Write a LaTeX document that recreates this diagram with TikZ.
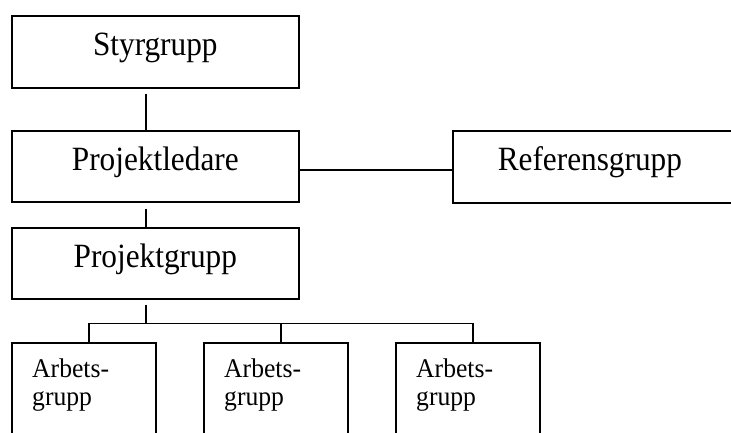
\documentclass[tikz,border=0pt]{standalone}
\usepackage{fontspec}
\setmainfont{Liberation Serif}
\newfontfamily\bigfont[FakeStretch=0.92]{Liberation Serif}
\newfontfamily\smallfont[FakeStretch=0.95]{Liberation Serif}
\begin{document}
\begin{tikzpicture}[x=1pt,y=-1pt,
  box/.style={draw, line width=1.6pt, rectangle, inner sep=0pt, anchor=north west,
    minimum width=287pt, minimum height=72pt,
    font=\bigfont\fontsize{34}{38}\selectfont, text height=21pt, text depth=13pt},
  refbox/.style={box, minimum width=0pt, text width=240pt, align=left, inner xsep=45pt},
  workbox/.style={draw, line width=1.6pt, rectangle, inner sep=0pt, anchor=north west,
    minimum width=144pt, minimum height=130pt},
  worktext/.style={anchor=north west, inner sep=0pt, align=left,
    font=\smallfont\fontsize{27}{28}\selectfont},
  conn/.style={line width=1.6pt}]
\useasboundingbox (0,0) rectangle (731,432);
\clip (0,0) rectangle (731,432);

% top chain
\node[box] (sty) at (11,15) {Styrgrupp};
\node[box, minimum height=71pt] (pl) at (11,130) {Projektledare};
\node[box, minimum height=71pt] (pg) at (11,227) {Projektgrupp};
\node[refbox] (ref) at (452,130) {Referensgrupp};

% working groups
\node[workbox] (a1) at (11,342) {};
\node[workbox] (a2) at (203,342) {};
\node[workbox] (a3) at (395,342) {};
\node[worktext] (t1) at ([shift={(21,16.5)}]a1.north west) {Arbets-\\grupp};
\node[worktext] (t2) at ([shift={(21,16.5)}]a2.north west) {Arbets-\\grupp};
\node[worktext] (t3) at ([shift={(21,16.5)}]a3.north west) {Arbets-\\grupp};

% connectors
\draw[conn] ([shift={(135,5)}]sty.south west) -- ([shift={(135,0)}]pl.north west);
\draw[conn] ([shift={(135,6)}]pl.south west) -- ([shift={(135,0)}]pg.north west);
\draw[conn] ([shift={(0,3.5)}]pl.east) -- ([shift={(0,3.5)}]pl.east -| ref.west);

\coordinate (bar) at ([shift={(135,24)}]pg.south west);
\coordinate (d1) at ([shift={(5,0)}]a1.north);
\coordinate (d2) at ([shift={(5,0)}]a2.north);
\coordinate (d3) at ([shift={(5,0)}]a3.north);
\draw[conn] ([shift={(135,5)}]pg.south west) -- (bar);
\draw[conn] (d1) -- (d1 |- bar) -- (d3 |- bar) -- (d3);
\draw[conn] (d2 |- bar) -- (d2);
\end{tikzpicture}
\end{document}
